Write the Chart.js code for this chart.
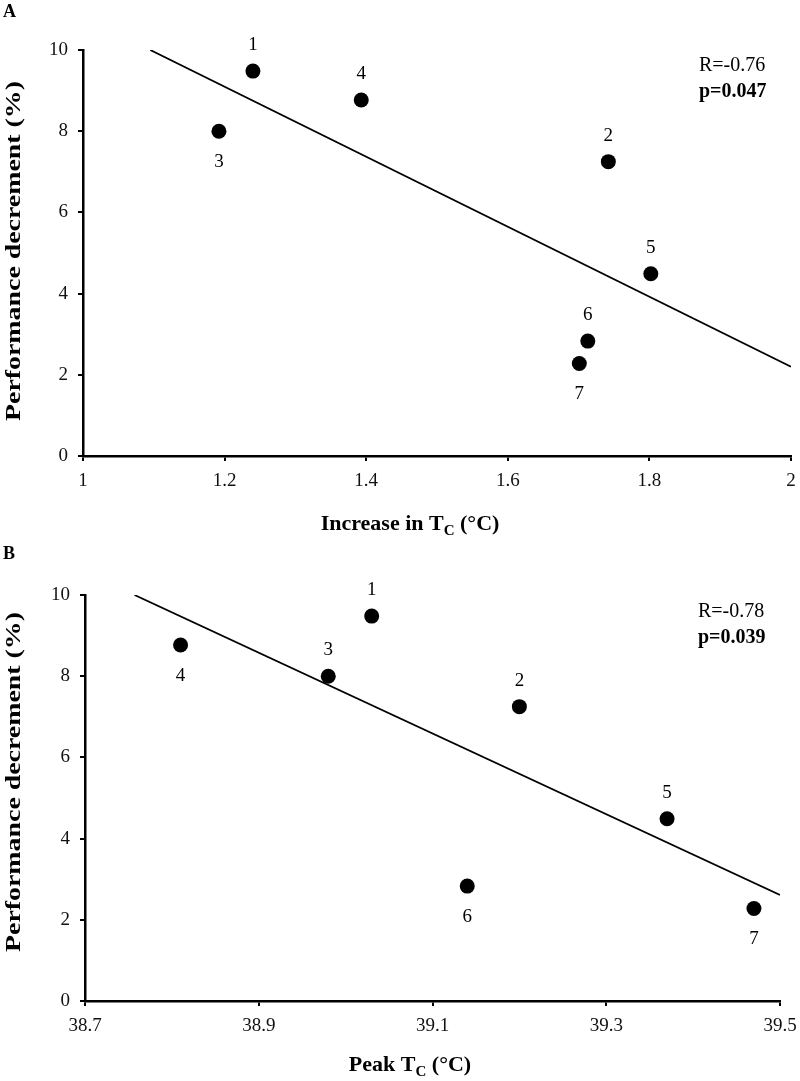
<!DOCTYPE html>
<html lang="en">
<head>
<meta charset="UTF-8">
<title>Performance decrement vs core temperature</title>
<script src="https://cdn.jsdelivr.net/npm/chart.js"></script>
<style>
    body { margin: 0; background: #fff; }
    .panel { width: 800px; }
    canvas { display: block; }
</style>
</head>
<body>
<div class="panel"><canvas id="chartA" width="800" height="540"></canvas></div>
<div class="panel"><canvas id="chartB" width="800" height="541"></canvas></div>

<script>
// data (subjects 1..7)
const subjects = ['1', '2', '3', '4', '5', '6', '7'];
const perfDecrement = [9.48, 7.25, 8.0, 8.77, 4.49, 2.83, 2.28];
const tcIncrease = [1.24, 1.742, 1.192, 1.393, 1.802, 1.713, 1.701];
const tcPeak = [39.03, 39.2, 38.98, 38.81, 39.37, 39.14, 39.47];

// trend line end points
const trendAX = [1.095, 2.0];
const trendAY = [10.0, 2.2];
const trendBX = [38.757, 39.5];
const trendBY = [10.0, 2.61];

// tick values
const xTicksA = [1, 1.2, 1.4, 1.6, 1.8, 2];
const xTicksB = [38.7, 38.9, 39.1, 39.3, 39.5];
const yTicks = [0, 2, 4, 6, 8, 10];

const statsA = ['R=-0.76', 'p=0.047'];
const statsB = ['R=-0.78', 'p=0.039'];

// which side of the dot each number sits on
const labelSideA = ['up', 'up', 'down', 'up', 'up', 'up', 'down'];
const labelSideB = ['up', 'up', 'up', 'down', 'up', 'down', 'down'];

const SERIF = "'Liberation Serif', 'Times New Roman', serif";

function drawSubText(ctx, parts, cx, baseline) {
    const big = 'bold 22px ' + SERIF;
    const small = 'bold 15px ' + SERIF;
    let total = 0;
    parts.forEach(p => { ctx.font = p.sub ? small : big; total += ctx.measureText(p.t).width; });
    let x = cx - total / 2;
    ctx.textAlign = 'left';
    ctx.textBaseline = 'alphabetic';
    parts.forEach(p => {
        ctx.font = p.sub ? small : big;
        ctx.fillText(p.t, x, baseline + (p.sub ? 5 : 0));
        x += ctx.measureText(p.t).width;
    });
}

const annotate = {
    id: 'annotate',
    afterDatasetsDraw(chart, args, o) {
        const ctx = chart.ctx;
        ctx.save();
        ctx.fillStyle = '#000';

        // subject numbers next to dots
        ctx.font = '19px ' + SERIF;
        ctx.textAlign = 'center';
        ctx.textBaseline = 'middle';
        chart.getDatasetMeta(0).data.forEach((pt, i) => {
            const dy = o.sides[i] === 'up' ? -26 : 31;
            ctx.fillText(subjects[i], pt.x, pt.y + dy);
        });

        // R and p
        ctx.textAlign = 'left';
        ctx.textBaseline = 'alphabetic';
        ctx.font = '20px ' + SERIF;
        ctx.fillText(o.stats[0], o.statsX, o.statsY);
        ctx.font = 'bold 20px ' + SERIF;
        ctx.fillText(o.stats[1], o.statsX, o.statsY + 26);

        // panel letter
        ctx.font = 'bold 18px ' + SERIF;
        ctx.fillText(o.letter, 3, o.letterY);

        // y title (stretched along its length like the original)
        const yt = 'Performance decrement (%)';
        ctx.save();
        ctx.font = 'bold 22px ' + SERIF;
        const w = ctx.measureText(yt).width;
        ctx.translate(14, o.yTitleY);
        ctx.rotate(-Math.PI / 2);
        ctx.scale(340 / w, 1);
        ctx.textAlign = 'center';
        ctx.textBaseline = 'middle';
        ctx.fillText(yt, 0, 0);
        ctx.restore();

        // x title with subscript
        drawSubText(ctx, o.xTitle, 410, o.xTitleY);
        ctx.restore();
    }
};

function makeChart(id, xs, trendX, trendY, xTicks, xMin, xMax, fmt, layout, ann) {
    new Chart(document.getElementById(id), {
        type: 'scatter',
        data: {
            datasets: [
                {
                    data: xs.map((x, i) => ({ x: x, y: perfDecrement[i] })),
                    backgroundColor: '#000',
                    borderWidth: 0,
                    pointRadius: 7.5,
                    pointHoverRadius: 7.5
                },
                {
                    type: 'line',
                    data: trendX.map((x, i) => ({ x: x, y: trendY[i] })),
                    borderColor: '#000',
                    borderWidth: 1.8,
                    pointRadius: 0,
                    fill: false
                }
            ]
        },
        options: {
            responsive: false,
            animation: false,
            layout: { padding: { top: layout.top, right: layout.right, left: 0, bottom: 0 } },
            plugins: { legend: { display: false }, tooltip: { enabled: false }, annotate: ann },
            scales: {
                x: {
                    type: 'linear',
                    min: xMin,
                    max: xMax,
                    afterBuildTicks: s => { s.ticks = xTicks.map(v => ({ value: v })); },
                    afterFit: s => { s.height = layout.xh; s.paddingLeft = 0; s.paddingRight = 0; },
                    border: { display: true, color: '#000', width: 2.5 },
                    grid: { drawOnChartArea: false, drawTicks: true, tickLength: 5, color: '#000', lineWidth: 2 },
                    ticks: {
                        color: '#111',
                        padding: 9,
                        maxRotation: 0,
                        font: { family: SERIF, size: 19 },
                        callback: v => fmt(v)
                    }
                },
                y: {
                    min: 0,
                    max: 10,
                    afterBuildTicks: s => { s.ticks = yTicks.map(v => ({ value: v })); },
                    afterFit: s => { s.width = layout.yw; s.paddingTop = 0; s.paddingBottom = 0; },
                    border: { display: true, color: '#000', width: 2.5 },
                    grid: { drawOnChartArea: false, drawTicks: true, tickLength: 5, color: '#000', lineWidth: 2 },
                    ticks: {
                        color: '#111',
                        padding: 10,
                        font: { family: SERIF, size: 19 }
                    }
                }
            }
        },
        plugins: [annotate]
    });
}

makeChart('chartA', tcIncrease, trendAX, trendAY, xTicksA, 1, 2, v => String(v),
    { top: 50, right: 9, xh: 84, yw: 83 },
    {
        sides: labelSideA, stats: statsA, statsX: 699, statsY: 71,
        letter: 'A', letterY: 17, yTitleY: 251,
        xTitle: [{ t: 'Increase in T' }, { t: 'C', sub: true }, { t: ' (°C)' }], xTitleY: 530
    });

makeChart('chartB', tcPeak, trendBX, trendBY, xTicksB, 38.7, 39.5, v => v.toFixed(1),
    { top: 55, right: 20, xh: 80, yw: 85 },
    {
        sides: labelSideB, stats: statsB, statsX: 698, statsY: 77,
        letter: 'B', letterY: 19, yTitleY: 242,
        xTitle: [{ t: 'Peak T' }, { t: 'C', sub: true }, { t: ' (°C)' }], xTitleY: 531
    });
</script>
</body>
</html>
